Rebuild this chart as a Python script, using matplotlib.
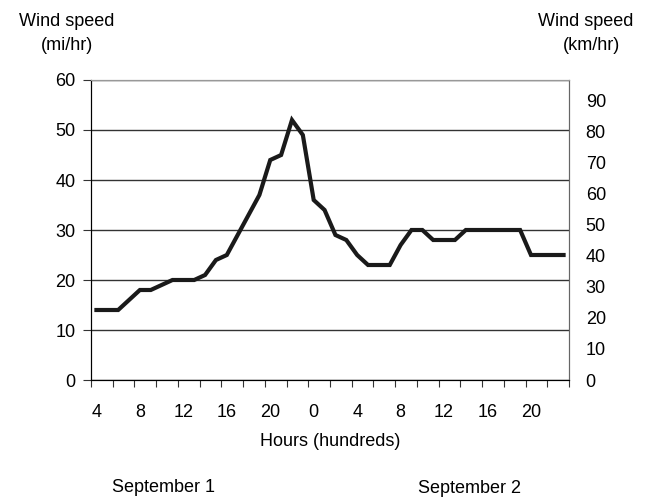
import matplotlib.pyplot as plt
import numpy as np

plt.rcParams["font.family"] = ["Liberation Sans", "DejaVu Sans"]

# hourly wind speed (mi/hr), starting 0400 on September 1
hours = list(range(4, 48))
speed_mph = [14, 14, 14, 16, 18, 18, 19, 20, 20, 20,
             21, 24, 25, 29, 33, 37, 44, 45, 52, 49,
             36, 34, 29, 28, 25, 23, 23, 23, 27, 30,
             30, 28, 28, 28, 30, 30, 30, 30, 30, 30,
             25, 25, 25, 25]
tick_labels = ["4", "8", "12", "16", "20", "0", "4", "8", "12", "16", "20"]
mph_ticks = [0, 10, 20, 30, 40, 50, 60]
kmh_ticks = [0, 10, 20, 30, 40, 50, 60, 70, 80, 90]
MPH_TO_KMH = 1.609344
FS = 13

fig = plt.figure(figsize=(6.52, 4.98), dpi=100)
ax = fig.add_axes([91 / 652, 1 - 380 / 498, 478 / 652, 300 / 498])

x = np.arange(len(hours))
ax.plot(x, speed_mph, color="#1a1a1a", lw=3, solid_joinstyle="miter", zorder=3)

ax.set_xlim(-0.5, len(hours) - 0.5)
ax.set_ylim(0, 60)
ax.set_yticks(mph_ticks)
ax.yaxis.grid(True, color="#333333", lw=1)
ax.set_axisbelow(True)

# category axis: ticks every two hours on boundaries, labels every four hours
ax.set_xticks(np.arange(-0.5, len(hours), 2))
ax.set_xticklabels([])
ax.set_xticks(np.arange(0, len(hours), 4), minor=True)
ax.set_xticklabels(tick_labels, minor=True)
ax.tick_params(axis="x", which="minor", length=0, pad=17, labelsize=FS)
ax.tick_params(axis="x", which="major", length=5, direction="out", color="#333333")
ax.tick_params(axis="y", length=6, direction="out", labelsize=FS, pad=5, color="#333333")
ax.spines["left"].set_color("#222222")
ax.spines["bottom"].set_color("#222222")
ax.spines["top"].set_color("#999999")
ax.spines["right"].set_color("#666666")

ax2 = ax.twinx()
ax2.set_ylim(0, 60 * MPH_TO_KMH)
ax2.set_yticks(kmh_ticks)
ax2.tick_params(axis="y", length=0, labelsize=FS, pad=12)
ax2.spines["right"].set_color("#666666")
ax2.spines["top"].set_color("#999999")

fig.text(67 / 652, 1 - 21 / 498, "Wind speed", ha="center", va="center", fontsize=FS)
fig.text(67 / 652, 1 - 45 / 498, "(mi/hr)", ha="center", va="center", fontsize=FS)
fig.text(586 / 652, 1 - 21 / 498, "Wind speed", ha="center", va="center", fontsize=FS)
fig.text(591 / 652, 1 - 45 / 498, "(km/hr)", ha="center", va="center", fontsize=FS)
fig.text(330 / 652, 1 - 441 / 498, "Hours (hundreds)", ha="center", va="center", fontsize=FS)
fig.text(163 / 652, 1 - 487 / 498, "September 1", ha="center", va="center", fontsize=FS)
fig.text(470 / 652, 1 - 488 / 498, "September 2", ha="center", va="center", fontsize=FS)

fig.savefig("out.png", dpi=100)
